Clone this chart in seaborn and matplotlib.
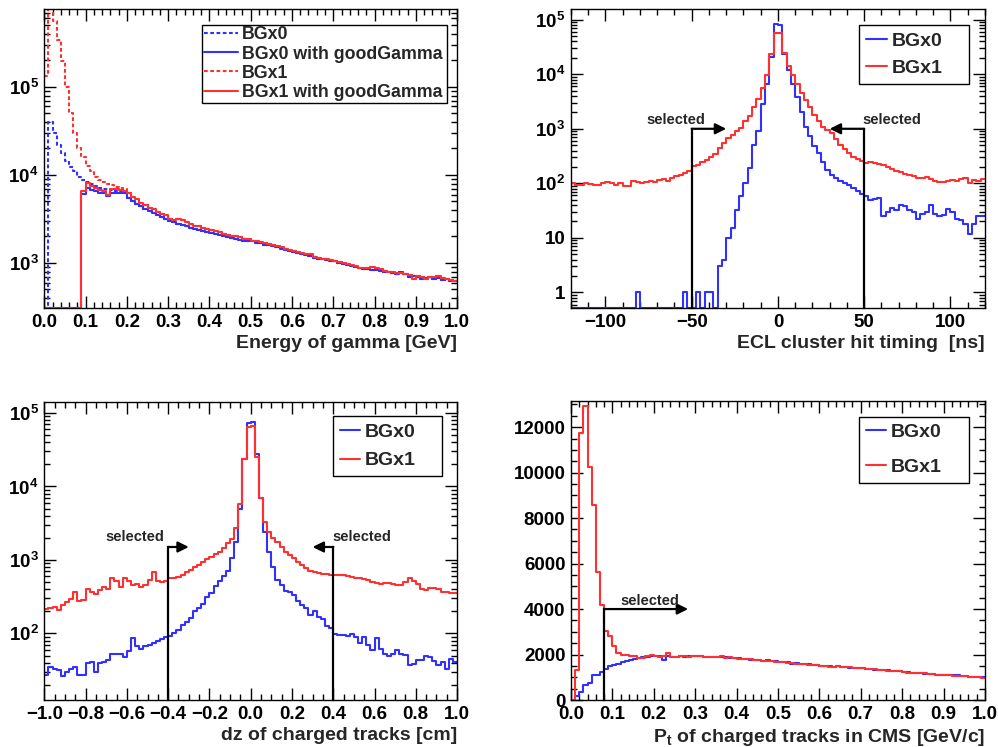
import numpy as np
import matplotlib
matplotlib.use("Agg")
import matplotlib.pyplot as plt
from matplotlib.ticker import (MultipleLocator, AutoMinorLocator, LogLocator,
                               FuncFormatter, NullFormatter)
import seaborn as sns

# ---- bin contents ----
# energy of gamma: 100 bins of 0.01 GeV, 0..1 GeV
egam_bgx0_good = [
    0, 0, 0, 0, 0, 0, 0, 0, 0, 6100,
    7100, 6800, 6600, 6300, 6200, 5800, 6300, 6300, 6300, 6200,
    5500, 5100, 4700, 4400, 4100, 3900, 3700, 3500, 3300, 3150,
    3000, 2900, 2800, 2700, 2600, 2500, 2420, 2350, 2300, 2250,
    2200, 2150, 2080, 2000, 1950, 1900, 1870, 1820, 1800, 1780,
    1760, 1700, 1680, 1620, 1580, 1550, 1500, 1450, 1400, 1370,
    1330, 1300, 1260, 1230, 1200, 1150, 1120, 1100, 1080, 1050,
    1040, 1000, 980, 950, 920, 900, 870, 850, 860, 840,
    840, 820, 800, 790, 760, 740, 780, 750, 700, 720,
    700, 650, 680, 690, 650, 670, 640, 650, 620, 620]
egam_bgx1_good = [
    0, 0, 0, 0, 0, 0, 0, 0, 0, 6500,
    8100, 7400, 7100, 6800, 6600, 6000, 7000, 6900, 6800, 6600,
    6200, 5600, 5300, 4800, 4500, 4200, 4100, 3800, 3600, 3500,
    3200, 3100, 3200, 3100, 2900, 2750, 2650, 2600, 2500, 2450,
    2350, 2300, 2250, 2150, 2100, 2050, 2000, 1950, 1880, 1850,
    1800, 1780, 1720, 1700, 1650, 1600, 1560, 1500, 1460, 1420,
    1380, 1330, 1300, 1280, 1250, 1180, 1150, 1120, 1100, 1080,
    1060, 1030, 1000, 980, 960, 920, 880, 880, 870, 900,
    880, 850, 820, 800, 780, 760, 760, 750, 730, 650,
    720, 700, 660, 700, 690, 710, 670, 650, 640, 630]
# first 20 bins without the goodGamma cut (above 0.2 GeV they coincide)
egam_bgx0_all_low = [0, 40000, 30000, 22000, 17800, 14300, 12300, 11000, 9600, 8800,
                     8300, 7800, 7500, 7200, 6900, 6900, 6700, 6500, 6400, 6300]
egam_bgx1_all_low = [135000, 800000, 560000, 340000, 195000, 100000, 50000, 30000, 20000, 15800,
                     12700, 11000, 9600, 8800, 8400, 7900, 7600, 7300, 7100, 6900]

# ECL cluster hit timing: 96 bins of 2.5 ns, -120..120 ns
ecl_bgx0 = [
    0, 0, 0, 0, 0, 0, 0, 0, 0, 0, 0, 0,
    0, 0, 0, 1, 0, 0, 0, 0, 0, 0, 0, 0,
    0, 0, 1, 0, 0, 1, 0, 1, 1, 0, 3, 4,
    10, 15, 33, 58, 101, 192, 515, 900, 2800, 6500, 21000, 84000,
    80000, 23000, 12000, 6500, 3800, 2000, 1100, 750, 480, 360, 250, 175,
    145, 125, 112, 100, 92, 82, 72, 64, 58, 50, 52, 55,
    25, 30, 35, 32, 40, 38, 33, 30, 22, 28, 30, 40,
    28, 25, 26, 34, 30, 22, 21, 18, 12, 18, 25, 25]
ecl_bgx1 = [
    100, 95, 92, 100, 97, 95, 92, 100, 108, 100, 95, 103,
    90, 88, 110, 108, 102, 105, 112, 105, 115, 120, 112, 125,
    138, 140, 155, 165, 205, 220, 245, 270, 310, 350, 445, 540,
    680, 780, 900, 1050, 1400, 1700, 2500, 3500, 5500, 9800, 23000, 58000,
    58000, 24000, 14000, 9800, 6500, 4500, 3300, 2500, 1800, 1400, 1100, 950,
    820, 650, 500, 420, 360, 310, 280, 260, 240, 245, 235, 225,
    215, 200, 180, 170, 160, 150, 145, 135, 128, 125, 130, 120,
    110, 108, 105, 110, 115, 112, 118, 125, 100, 115, 112, 118]

# dz of charged tracks: 100 bins of 0.02 cm, -1..1 cm
dz_bgx0 = [
    27, 35, 33, 32, 26, 30, 33, 35, 27, 27,
    39, 41, 30, 40, 41, 43, 53, 53, 53, 48,
    57, 86, 67, 62, 67, 70, 75, 80, 84, 88,
    92, 100, 110, 130, 145, 160, 200, 220, 255, 314,
    350, 440, 513, 600, 700, 1050, 1780, 5000, 24000, 74000,
    75000, 28000, 6900, 2430, 1300, 810, 535, 460, 380, 370,
    335, 272, 240, 220, 180, 200, 165, 158, 125, 120,
    97, 95, 96, 93, 97, 90, 73, 88, 70, 59,
    87, 62, 53, 50, 53, 59, 53, 51, 37, 38,
    44, 43, 50, 48, 42, 37, 41, 33, 45, 41]
dz_bgx1 = [
    218, 225, 230, 210, 245, 270, 290, 367, 277, 285,
    397, 370, 345, 390, 430, 397, 560, 510, 430, 570,
    510, 460, 470, 430, 460, 530, 690, 520, 500, 520,
    560, 570, 590, 620, 680, 720, 800, 860, 940, 1020,
    1100, 1200, 1300, 1450, 1700, 1900, 2700, 5700, 24000, 65000,
    67000, 25000, 7000, 3300, 2430, 1970, 1780, 1520, 1300, 1170,
    1050, 950, 860, 770, 710, 680, 670, 640, 640, 630,
    630, 620, 615, 600, 580, 570, 560, 555, 540, 500,
    480, 470, 485, 480, 470, 460, 455, 500, 570, 520,
    470, 400, 390, 420, 410, 400, 370, 365, 350, 360]

# Pt of charged tracks in CMS: 100 bins of 0.01 GeV/c, 0..1 GeV/c
pt_bgx0 = [
    0, 180, 370, 660, 730, 1100, 1120, 1250, 1380, 1500,
    1560, 1600, 1650, 1700, 1780, 1820, 1850, 1880, 1900, 1920,
    1920, 1930, 1780, 1950, 1900, 1880, 1920, 1900, 1940, 1930,
    1950, 1930, 1910, 1900, 1890, 1900, 1890, 1870, 1860, 1850,
    1830, 1820, 1810, 1780, 1770, 1750, 1730, 1740, 1700, 1700,
    1690, 1670, 1650, 1600, 1640, 1590, 1570, 1580, 1550, 1530,
    1500, 1490, 1480, 1460, 1500, 1460, 1440, 1420, 1410, 1400,
    1390, 1380, 1370, 1340, 1320, 1310, 1300, 1290, 1290, 1280,
    1220, 1210, 1200, 1180, 1190, 1160, 1150, 1140, 1120, 1110,
    1100, 1090, 1080, 1090, 1060, 1040, 1030, 1020, 1010, 1000]
pt_bgx1 = [
    0, 1330, 11750, 12920, 10240, 8560, 5630, 4170, 3050, 2800,
    2360, 2070, 1995, 1970, 1920, 1920, 1850, 1830, 1920, 1970,
    1920, 1900, 1950, 2080, 1880, 1900, 1950, 1920, 1900, 1950,
    1930, 1920, 1900, 1910, 1880, 1880, 1920, 1860, 1880, 1850,
    1820, 1810, 1800, 1790, 1760, 1740, 1720, 1700, 1700, 1680,
    1680, 1660, 1640, 1620, 1600, 1600, 1580, 1560, 1540, 1530,
    1500, 1480, 1470, 1470, 1480, 1450, 1430, 1430, 1400, 1390,
    1390, 1380, 1350, 1360, 1330, 1300, 1290, 1280, 1270, 1260,
    1210, 1200, 1190, 1200, 1180, 1170, 1150, 1130, 1120, 1100,
    1100, 1090, 1070, 1060, 1060, 1050, 1020, 1010, 1000, 990]

# selection cuts drawn as arrows
ecl_cut = 50
dz_cut = 0.4
pt_cut = 0.08

BLUE = "#3030ff"
RED = "#ff3030"
DASH = (0, (1.8, 1.2))

sns.set_style("ticks")
plt.rcParams["font.family"] = ["Liberation Sans", "DejaVu Sans"]
plt.rcParams.update({
    "font.weight": "bold",
    "axes.labelweight": "bold",
    "axes.edgecolor": "black",
    "axes.linewidth": 1.0,
    "xtick.color": "black",
    "ytick.color": "black",
    "mathtext.fontset": "custom",
    "mathtext.rm": "Liberation Sans:bold",
    "mathtext.it": "Liberation Sans:bold",
    "mathtext.bf": "Liberation Sans:bold",
})


def draw_step(ax, lo, hi, counts, color, ls="-", floor=None, label=None):
    counts = np.asarray(counts, dtype=float)
    if floor is not None:
        # empty bins lie on the bottom of a log axis, ROOT-like
        counts = np.maximum(counts, floor)
    n = len(counts)
    width = (hi - lo) / n
    centers = lo + width * (np.arange(n) + 0.5)
    sns.histplot(x=centers, weights=counts, bins=n, binrange=(lo, hi),
                 element="step", fill=False, color=color, linewidth=1.5,
                 linestyle=ls, ax=ax)
    line = ax.lines[-1]
    line.set_label(label)
    return line


def log_label(v, pos):
    e = int(round(np.log10(v)))
    if e == 0:
        return "1"
    if e == 1:
        return "10"
    return r"$10^{%d}$" % e


def num_label(fmt):
    def f(v, pos):
        if abs(v) < 1e-9:
            v = 0.0
        return fmt.format(v).replace("-", "\u2212")
    return FuncFormatter(f)


def style_axes(ax, xlabel, logy):
    ax.set_ylabel("")
    ax.set_xlabel(xlabel, loc="right", fontsize=14, fontweight="bold", labelpad=3)
    ax.tick_params(which="both", direction="in", top=True, right=True,
                   labelsize=13.5, width=1.0, pad=4)
    ax.tick_params(which="major", length=8.5)
    ax.tick_params(which="minor", length=4.3)
    if logy:
        ax.set_yscale("log")
        ax.yaxis.set_major_locator(LogLocator(base=10, numticks=12))
        ax.yaxis.set_minor_locator(LogLocator(base=10, subs=np.arange(2, 10), numticks=100))
        ax.yaxis.set_major_formatter(FuncFormatter(log_label))
        ax.yaxis.set_minor_formatter(NullFormatter())


def selected(ax, cut, tip, y_arrow, y_bottom, tx, ty):
    ax.plot([cut, cut], [y_bottom, y_arrow], color="black", lw=1.6,
            solid_capstyle="projecting", clip_on=False)
    ax.annotate("", xy=(tip, y_arrow), xytext=(cut, y_arrow),
                arrowprops=dict(arrowstyle="-|>", color="black", lw=1.6,
                                shrinkA=0, shrinkB=0, mutation_scale=16))
    ax.text(tx, ty, "selected", ha="center", va="baseline",
            fontsize=10.5, fontweight="bold")


def add_legend(ax, handles, box, size, hlen, ls, bp):
    leg = ax.legend(handles=handles, loc="upper left", bbox_to_anchor=box,
                    mode="expand", borderaxespad=0, fancybox=False,
                    edgecolor="black", framealpha=1, shadow=False,
                    prop={"weight": "bold", "size": size},
                    handlelength=hlen, handletextpad=0.25,
                    labelspacing=ls, borderpad=bp)
    leg.get_frame().set_linewidth(1.0)


fig = plt.figure(figsize=(9.98, 7.47), dpi=100)
ax1 = fig.add_axes([0.0444, 0.5877, 0.4136, 0.4003])
ax2 = fig.add_axes([0.5721, 0.5877, 0.4148, 0.4003])
ax3 = fig.add_axes([0.0444, 0.0629, 0.4136, 0.3989])
ax4 = fig.add_axes([0.5721, 0.0629, 0.4148, 0.4003])

# ---- energy of gamma ----
e_floor = 308
bgx0_all = egam_bgx0_all_low + egam_bgx0_good[20:]
bgx1_all = egam_bgx1_all_low + egam_bgx1_good[20:]
h1 = draw_step(ax1, 0, 1, bgx0_all, BLUE, DASH, e_floor, "BGx0")
h2 = draw_step(ax1, 0, 1, egam_bgx0_good, BLUE, "-", e_floor, "BGx0 with goodGamma")
h3 = draw_step(ax1, 0, 1, bgx1_all, RED, DASH, e_floor, "BGx1")
h4 = draw_step(ax1, 0, 1, egam_bgx1_good, RED, "-", e_floor, "BGx1 with goodGamma")
style_axes(ax1, "Energy of gamma [GeV]", True)
ax1.set_xlim(0, 1)
ax1.set_ylim(e_floor, 7.7e5)
ax1.xaxis.set_major_locator(MultipleLocator(0.1))
ax1.xaxis.set_minor_locator(MultipleLocator(0.02))
ax1.xaxis.set_major_formatter(num_label("{:.1f}"))
add_legend(ax1, [h1, h2, h3, h4], (0.382, 0.69, 0.594, 0.2575), 12.8, 1.9, 0.12, 0.1)

# ---- ECL cluster hit timing ----
t_floor = 0.52
g1 = draw_step(ax2, -120, 120, ecl_bgx0, BLUE, "-", t_floor, "BGx0")
g2 = draw_step(ax2, -120, 120, ecl_bgx1, RED, "-", t_floor, "BGx1")
style_axes(ax2, "ECL cluster hit timing  [ns]", True)
ax2.set_xlim(-120, 120)
ax2.set_ylim(t_floor, 1.57e5)
ax2.xaxis.set_major_locator(MultipleLocator(50))
ax2.xaxis.set_minor_locator(MultipleLocator(10))
ax2.xaxis.set_major_formatter(num_label("{:.0f}"))
selected(ax2, -ecl_cut, -30, 1000, t_floor, -59, 1200)
selected(ax2, ecl_cut, 30, 1000, t_floor, 66, 1200)
add_legend(ax2, [g1, g2], (0.696, 0.739, 0.266, 0.2085), 14, 1.05, 0.48, 0.38)

# ---- dz of charged tracks ----
z_floor = 12.4
k1 = draw_step(ax3, -1, 1, dz_bgx0, BLUE, "-", z_floor, "BGx0")
k2 = draw_step(ax3, -1, 1, dz_bgx1, RED, "-", z_floor, "BGx1")
style_axes(ax3, "dz of charged tracks [cm]", True)
ax3.set_xlim(-1, 1)
ax3.set_ylim(z_floor, 1.41e5)
ax3.xaxis.set_major_locator(MultipleLocator(0.2))
ax3.xaxis.set_minor_locator(AutoMinorLocator(4))
ax3.xaxis.set_major_formatter(num_label("{:.1f}"))
selected(ax3, -dz_cut, -0.3, 1500, z_floor, -0.56, 1800)
selected(ax3, dz_cut, 0.3, 1500, z_floor, 0.54, 1800)
add_legend(ax3, [k1, k2], (0.699, 0.741, 0.265, 0.212), 14, 1.05, 0.57, 0.36)

# ---- Pt of charged tracks ----
p1 = draw_step(ax4, 0, 1, pt_bgx0, BLUE, "-", None, "BGx0")
p2 = draw_step(ax4, 0, 1, pt_bgx1, RED, "-", None, "BGx1")
style_axes(ax4, r"P$_{\mathrm{t}}$ of charged tracks in CMS [GeV/c]", False)
ax4.set_xlim(0, 1)
ax4.set_ylim(0, 13150)
ax4.xaxis.set_major_locator(MultipleLocator(0.1))
ax4.xaxis.set_minor_locator(MultipleLocator(0.02))
ax4.xaxis.set_major_formatter(num_label("{:.1f}"))
ax4.yaxis.set_major_locator(MultipleLocator(2000))
ax4.yaxis.set_minor_locator(MultipleLocator(500))
ax4.yaxis.set_major_formatter(num_label("{:.0f}"))
selected(ax4, pt_cut, 0.283, 4000, 0, 0.19, 4180)
add_legend(ax4, [p1, p2], (0.696, 0.716, 0.266, 0.2315), 14, 1.05, 0.91, 0.34)

fig.savefig("out.png", dpi=100, facecolor="white")
